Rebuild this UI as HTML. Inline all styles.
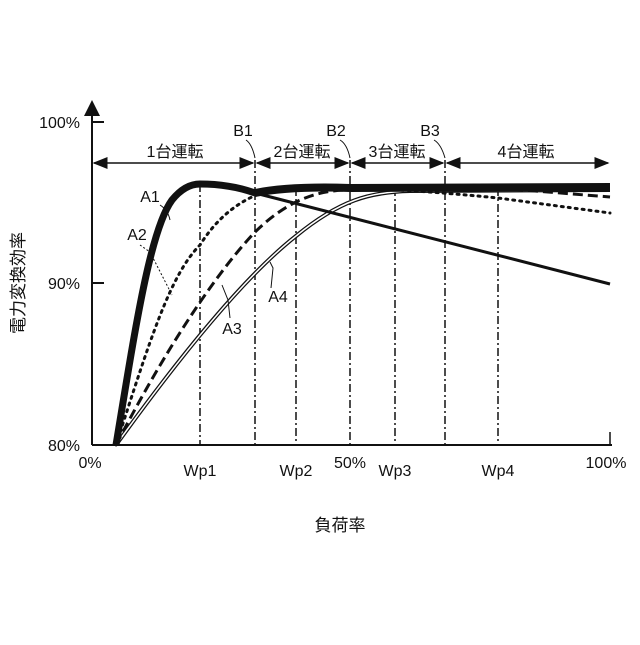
<!DOCTYPE html>
<html><head><meta charset="utf-8"><style>
body{margin:0;background:#fff}
text{font-family:"Liberation Sans","Noto Sans CJK JP",sans-serif;fill:#111}
</style></head><body>
<svg width="640" height="640" viewBox="0 0 640 640" xmlns="http://www.w3.org/2000/svg">
<defs>
<marker id="ar" markerWidth="10" markerHeight="8" refX="9" refY="4" orient="auto-start-reverse"><path d="M0,0 L10,4 L0,8 z" fill="#111"/></marker>
<marker id="ar2" markerWidth="8" markerHeight="8" refX="7" refY="4" orient="auto"><path d="M0,0 L8,4 L0,8 z" fill="#111"/></marker>
</defs>
<g stroke="#111" fill="none">
<line x1="92" y1="445" x2="92" y2="102" stroke-width="2" marker-end="url(#ar2)"/>
<line x1="92" y1="445" x2="612" y2="445" stroke-width="2"/>
<line x1="610" y1="432" x2="610" y2="445" stroke-width="1.5"/>
<line x1="92" y1="122" x2="104" y2="122" stroke-width="2"/>
<line x1="92" y1="283" x2="104" y2="283" stroke-width="2"/>
<g stroke-width="1.5" stroke-dasharray="8,3,2,3">
<line x1="200" y1="184" x2="200" y2="445"/>
<line x1="255" y1="160" x2="255" y2="445"/>
<line x1="296" y1="188" x2="296" y2="445"/>
<line x1="350" y1="160" x2="350" y2="445"/>
<line x1="395" y1="188" x2="395" y2="445"/>
<line x1="445" y1="160" x2="445" y2="445"/>
<line x1="498" y1="188" x2="498" y2="445"/>
</g>
<g stroke-width="1.5">
<line x1="94" y1="163" x2="253" y2="163" marker-end="url(#ar)" marker-start="url(#ar)"/>
<line x1="257" y1="163" x2="348" y2="163" marker-end="url(#ar)" marker-start="url(#ar)"/>
<line x1="352" y1="163" x2="443" y2="163" marker-end="url(#ar)" marker-start="url(#ar)"/>
<line x1="447" y1="163" x2="608" y2="163" marker-end="url(#ar)" marker-start="url(#ar)"/>
</g>
<!-- A4 double -->
<path d="M116,445 C170,370 240,280 296,236 C340,200 370,192 410,191 L610,190" stroke-width="4"/>
<path d="M116,445 C170,370 240,280 296,236 C340,200 370,192 410,191 L610,190" stroke="#fff" stroke-width="1.5"/>
<!-- A3 dashed -->
<path d="M116,445 C160,360 210,280 255,232 C290,198 320,190 350,190 Q420,186 498,188 L610,197" stroke-width="3" stroke-dasharray="10,5"/>
<!-- A2 dotted -->
<path d="M116,445 C150,340 170,275 200,245 C225,205 260,188 296,186 Q400,188 498,198 L610,213" stroke-width="3" stroke-dasharray="2,5" stroke-linecap="round"/>
<!-- A1 -->
<path d="M255,193 L610,284" stroke-width="3"/>
<path d="M116,445 C135,330 150,230 172,200 Q185,184 200,184 Q230,184 255,193" stroke-width="7"/>
<path d="M255,193 Q290,186 350,188 L610,187" stroke-width="8"/>
<!-- leader lines -->
<g stroke-width="1">
<path d="M160,205 Q168,210 170,220"/>
<path d="M140,245 L150,252 L172,295" stroke-dasharray="2,2"/>
<path d="M230,318 L228,300 L222,285"/>
<path d="M271,288 L273,268 L270,262"/>
<path d="M246,140 Q252,144 255,158"/>
<path d="M340,140 Q347,144 350,158"/>
<path d="M434,140 Q441,144 445,158"/>
</g>
</g>
<g font-size="16">
<text x="80" y="128" text-anchor="end">100%</text>
<text x="80" y="289" text-anchor="end">90%</text>
<text x="80" y="451" text-anchor="end">80%</text>
<text x="90" y="468" text-anchor="middle">0%</text>
<text x="350" y="468" text-anchor="middle">50%</text>
<text x="606" y="468" text-anchor="middle">100%</text>
<text x="200" y="476" text-anchor="middle">Wp1</text>
<text x="296" y="476" text-anchor="middle">Wp2</text>
<text x="395" y="476" text-anchor="middle">Wp3</text>
<text x="498" y="476" text-anchor="middle">Wp4</text>
<text x="175" y="157" text-anchor="middle">1台運転</text>
<text x="302" y="157" text-anchor="middle">2台運転</text>
<text x="397" y="157" text-anchor="middle">3台運転</text>
<text x="526" y="157" text-anchor="middle">4台運転</text>
<text x="243" y="136" text-anchor="middle">B1</text>
<text x="336" y="136" text-anchor="middle">B2</text>
<text x="430" y="136" text-anchor="middle">B3</text>
<text x="150" y="202" text-anchor="middle">A1</text>
<text x="137" y="240" text-anchor="middle">A2</text>
<text x="232" y="334" text-anchor="middle">A3</text>
<text x="278" y="302" text-anchor="middle">A4</text>
<text x="340" y="531" text-anchor="middle" font-size="17">負荷率</text>
<text transform="translate(24,283) rotate(-90)" text-anchor="middle" font-size="17">電力変換効率</text>
</g>
</svg>
</body></html>
